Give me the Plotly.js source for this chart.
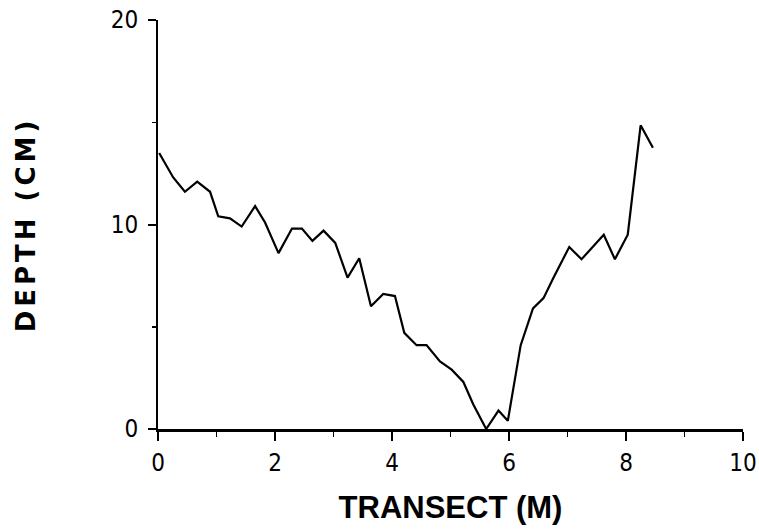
<!DOCTYPE html>
<html>
<head>
<meta charset="utf-8">
<script src="https://cdn.plot.ly/plotly-3.0.1.min.js"></script>
<style>
  html, body { margin: 0; padding: 0; background: #fff; }
  #chart { width: 759px; height: 531px; }
  .g-ytitle text { letter-spacing: 4px; }
</style>
</head>
<body>
<div id="chart"></div>
<script>
// Transect position (m) and depth (cm)
const transectM = [0.02, 0.26, 0.46, 0.67, 0.89, 1.03, 1.23, 1.43, 1.66, 1.83,
                   2.06, 2.29, 2.46, 2.64, 2.83, 3.03, 3.24, 3.44, 3.64, 3.85,
                   4.05, 4.21, 4.42, 4.59, 4.82, 5.02, 5.22, 5.39, 5.61, 5.82,
                   5.98, 6.20, 6.41, 6.59, 6.76, 7.03, 7.24, 7.62, 7.81, 8.03,
                   8.25, 8.46];
const depthCm   = [13.5, 12.3, 11.6, 12.1, 11.6, 10.4, 10.3, 9.9, 10.9, 10.1,
                   8.6, 9.8, 9.8, 9.2, 9.7, 9.1, 7.4, 8.35, 6.0, 6.6,
                   6.5, 4.7, 4.1, 4.1, 3.3, 2.9, 2.3, 1.2, 0.0, 0.9,
                   0.4, 4.1, 5.9, 6.4, 7.4, 8.9, 8.3, 9.5, 8.3, 9.5,
                   14.85, 13.75];
const xTicks = [0, 2, 4, 6, 8, 10];
const yTicks = [0, 10, 20];

const tickFont = { family: 'Liberation Sans Narrow, DejaVu Sans Condensed, Arial, sans-serif', size: 24, color: '#000' };

const trace = {
  x: transectM,
  y: depthCm,
  type: 'scatter',
  mode: 'lines',
  line: { color: '#000', width: 2.2 },
  cliponaxis: false,
  hoverinfo: 'x+y'
};

const layout = {
  width: 759,
  height: 531,
  margin: { l: 158, r: 16, t: 20, b: 102 },
  paper_bgcolor: '#fff',
  plot_bgcolor: '#fff',
  showlegend: false,
  xaxis: {
    range: [0, 10],
    tickvals: xTicks,
    ticktext: xTicks.map(String),
    ticks: 'outside',
    ticklen: 9,
    tickwidth: 2,
    tickcolor: '#000',
    minor: { dtick: 1, tick0: 0, ticks: 'outside', ticklen: 5, tickwidth: 1.5, tickcolor: '#000' },
    showline: true,
    linecolor: '#000',
    linewidth: 2.5,
    showgrid: false,
    zeroline: false,
    tickfont: tickFont,
    ticklabelstandoff: 2,
    title: { text: 'TRANSECT (M)', font: { family: 'Liberation Sans, Arial, sans-serif', size: 31, weight: 'bold', color: '#000' }, standoff: 20 }
  },
  yaxis: {
    range: [0, 20],
    tickvals: yTicks,
    ticktext: yTicks.map(String),
    ticks: 'outside',
    ticklen: 8,
    tickwidth: 2,
    tickcolor: '#000',
    minor: { dtick: 5, tick0: 0, ticks: 'outside', ticklen: 4, tickwidth: 1.5, tickcolor: '#000' },
    showline: true,
    linecolor: '#000',
    linewidth: 2,
    showgrid: false,
    zeroline: false,
    tickfont: tickFont,
    ticklabelstandoff: 5,
    title: { text: 'DEPTH (CM)', font: { family: 'DejaVu Sans, sans-serif', size: 26, weight: 'bold', color: '#000' }, standoff: 68 }
  }
};

Plotly.newPlot('chart', [trace], layout, { displayModeBar: false, staticPlot: true });
</script>
</body>
</html>
